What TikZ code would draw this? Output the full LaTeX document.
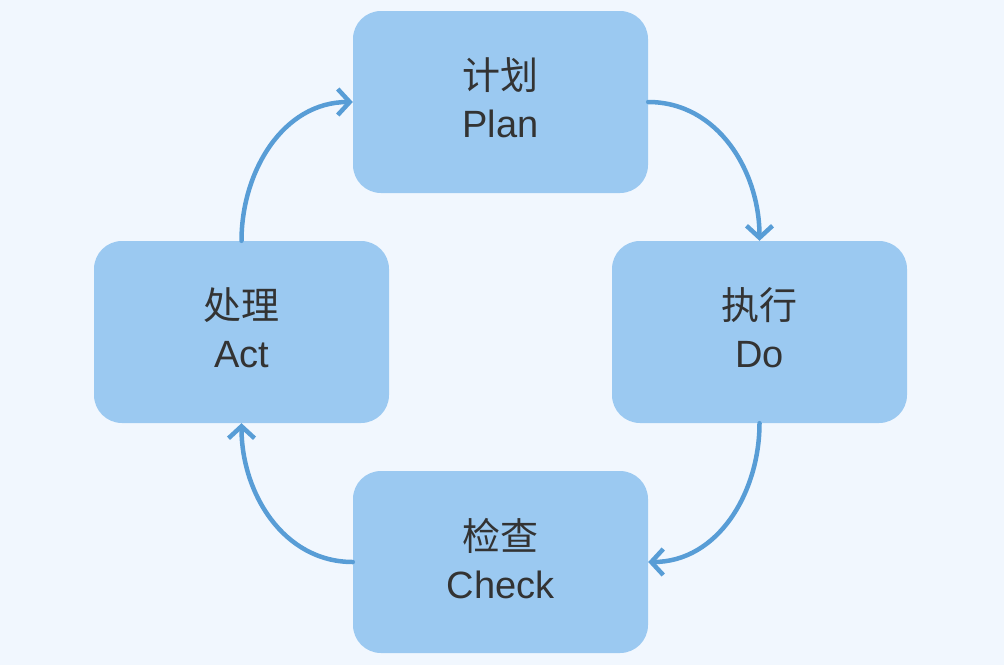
\documentclass[tikz,border=0pt]{standalone}
\usepackage{fontspec}
\setmainfont{Liberation Sans}
\newfontfamily\cjk{Noto Sans CJK SC}
\usetikzlibrary{arrows.meta}
\definecolor{bgc}{RGB}{241,247,254}
\definecolor{boxc}{RGB}{155,201,241}
\definecolor{linec}{RGB}{88,157,214}
\definecolor{txtc}{RGB}{51,51,51}
\newcommand{\stagelabel}[2]{{\cjk #1}\\#2}
\tikzset{
  stagebox/.style={fill=boxc, draw=none, rounded corners=28pt, minimum width=295pt, minimum height=182pt,
    text=txtc, align=center, font=\fontsize{38}{48}\selectfont, text depth=8pt},
  flow/.style={draw=linec, line width=4.5pt, line cap=round,
    -{Straight Barb[length=12pt,width=26pt,line width=4.5pt]}}
}
\begin{document}
\begin{tikzpicture}[x=1pt,y=-1pt]
\fill[bgc] (0,0) rectangle (1004,665);
\useasboundingbox (0,0) rectangle (1004,665);
\node[stagebox] (plan) at (500.5,102) {\stagelabel{计划}{Plan}};
\node[stagebox] (do) at (759.5,332) {\stagelabel{执行}{Do}};
\node[stagebox] (check) at (500.5,562) {\stagelabel{检查}{Check}};
\node[stagebox] (act) at (241.5,332) {\stagelabel{处理}{Act}};
\draw[flow] (act.north) to[out=90,in=180] (plan.west);
\draw[flow] (plan.east) to[out=0,in=90] (do.north);
\draw[flow] (do.south) to[out=-90,in=0] (check.east);
\draw[flow] (check.west) to[out=180,in=-90] (act.south);
\end{tikzpicture}
\end{document}
